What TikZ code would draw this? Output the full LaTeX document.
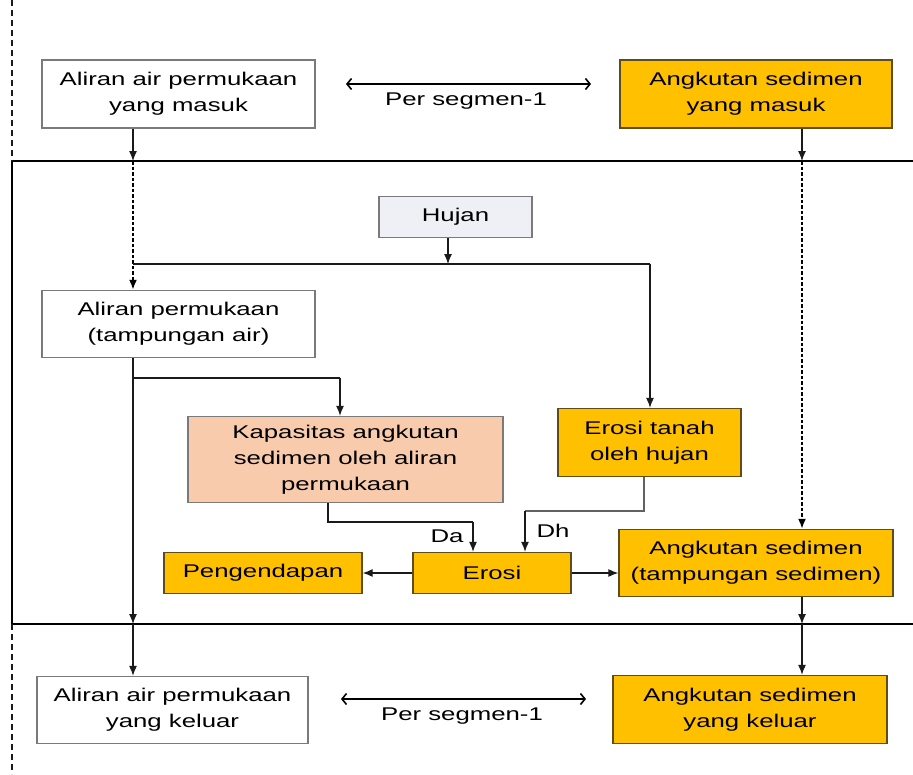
\documentclass[tikz,border=0pt]{standalone}
\usepackage{fontspec}
\setmainfont{Liberation Sans}[FakeStretch=1.4]
\usetikzlibrary{arrows.meta}
\definecolor{gold}{HTML}{FFC000}
\definecolor{goldline}{HTML}{5E4C1A}
\definecolor{peach}{HTML}{F8CBAD}
\definecolor{mist}{HTML}{EEF0F5}
\definecolor{greyline}{HTML}{7A7A7A}
\definecolor{wire}{HTML}{1A1A1A}
\begin{document}
\begin{tikzpicture}[x=1pt,y=-1pt,
  every node/.style={font=\fontsize{18.4}{26}\selectfont, text=black},
  box/.style={draw=greyline, line width=1.3pt, align=center, inner sep=0pt},
  plainbox/.style={box, fill=white},
  goldbox/.style={box, fill=gold, draw=goldline},
  peachbox/.style={box, fill=peach},
  rainbox/.style={box, fill=mist},
  tip/.style={-{Latex[length=10pt,width=8pt]}},
  link/.style={draw=wire, line width=1.2pt},
  dotlink/.style={draw=black, line width=2pt, dash pattern=on 3.5pt off 2pt},
  span/.style={draw=black, line width=1.6pt, {Straight Barb[length=4.5pt,width=11pt]}-{Straight Barb[length=4.5pt,width=11pt]}},
  frame/.style={draw=black, line width=2.2pt},
  boundary/.style={draw=wire, line width=1.3pt, dash pattern=on 6pt off 4pt}]
\useasboundingbox (0,0) rectangle (913,774);

% segment frame and boundary
\coordinate (ftr) at (913,161);
\coordinate (ftl) at (12,161);
\coordinate (fbl) at (12,624);
\coordinate (fbr) at (913,624);
\coordinate (btop) at (12,0);
\coordinate (bbot) at (12,774);
\draw[frame] (ftr) -- (ftl) -- (fbl) -- (fbr);
\draw[boundary] (btop) -- (ftl);
\draw[boundary] (fbl) -- (bbot);

% boxes
\node[plainbox, minimum width=273pt, minimum height=68pt] (inair) at (178.5,94) {Aliran air permukaan\\yang masuk};
\node[goldbox, minimum width=272pt, minimum height=68pt] (insed) at (756,94) {Angkutan sedimen\\yang masuk};
\node[rainbox, minimum width=153pt, minimum height=41pt] (rain) at (455.5,217) {Hujan};
\node[plainbox, minimum width=273pt, minimum height=67pt] (flow) at (178.5,324) {Aliran permukaan\\(tampungan air)};
\node[peachbox, minimum width=315pt, minimum height=86pt] (cap) at (345.5,459.5) {Kapasitas angkutan\\sedimen oleh aliran\\permukaan};
\node[goldbox, minimum width=183pt, minimum height=68pt] (splash) at (649.5,442.5) {Erosi tanah\\oleh hujan};
\node[goldbox, minimum width=158pt, minimum height=41pt] (ero) at (492,573) {Erosi};
\node[goldbox, minimum width=198pt, minimum height=41pt] (dep) at (263,573) {Pengendapan};
\node[goldbox, minimum width=274pt, minimum height=67pt] (store) at (756,563) {Angkutan sedimen\\(tampungan sedimen)};
\node[plainbox, minimum width=271pt, minimum height=67pt] (outair) at (172.5,710) {Aliran air permukaan\\yang keluar};
\node[goldbox, minimum width=274pt, minimum height=68pt] (outsed) at (750,709.5) {Angkutan sedimen\\yang keluar};

% per-segment spans
\coordinate (s1a) at (346,84);
\coordinate (s1b) at (591,84);
\coordinate (s2a) at (341,699);
\coordinate (s2b) at (586,699);
\draw[span] (s1a) -- (s1b);
\draw[span] (s2a) -- (s2b);
\node (lab1) at (466,101) {Per segmen-1};
\node (lab2) at (462,716) {Per segmen-1};

% water path on the left
\coordinate (wtop) at (133,161);
\coordinate (wbot) at (133,624);
\coordinate (rainrow) at (133,264);
\coordinate (caprow) at (133,378);
\draw[link, tip] (inair.south -| wtop) -- (wtop);
\draw[dotlink, tip] (wtop) -- (flow.north -| wtop);
\draw[link, tip] (flow.south -| wtop) -- (wbot);
\draw[link, tip] (wbot) -- (outair.north -| wbot);

% sediment path on the right
\coordinate (stop) at (802,161);
\coordinate (sbot) at (802,624);
\draw[link, tip] (insed.south -| stop) -- (stop);
\draw[dotlink, tip] (stop) -- (store.north -| stop);
\draw[link, tip] (store.south -| sbot) -- (sbot);
\draw[link, tip] (sbot) -- (outsed.north -| sbot);

% rainfall distribution
\coordinate (raindrop) at (448,264);
\coordinate (rainend) at (650,264);
\draw[link, tip] (rain.south -| raindrop) -- (raindrop);
\draw[link] (rainrow) -- (rainend);
\draw[link, tip] (rainend) -- (splash.north -| rainend);

% transport capacity branch
\coordinate (capend) at (340,378);
\draw[link] (caprow) -- (capend);
\draw[link, tip] (capend) -- (cap.north -| capend);

% detachment by flow (Da) and by rain (Dh)
\coordinate (da1) at (328,522);
\coordinate (da2) at (473,522);
\draw[link] (cap.south -| da1) -- (da1) -- (da2);
\draw[link, tip] (da2) -- (ero.north -| da2);
\coordinate (dh1) at (644,511);
\coordinate (dh2) at (525,511);
\draw[link, draw=greyline!80!black] (splash.south -| dh1) -- (dh1) -- (dh2);
\draw[link, tip] (dh2) -- (ero.north -| dh2);
\node (da) at (447,536) {Da};
\node (dh) at (553,531) {Dh};

% erosion outcomes
\draw[link, tip] (ero.west) -- (dep.east);
\draw[link, tip] (ero.east) -- (ero.east -| store.west);
\end{tikzpicture}
\end{document}
